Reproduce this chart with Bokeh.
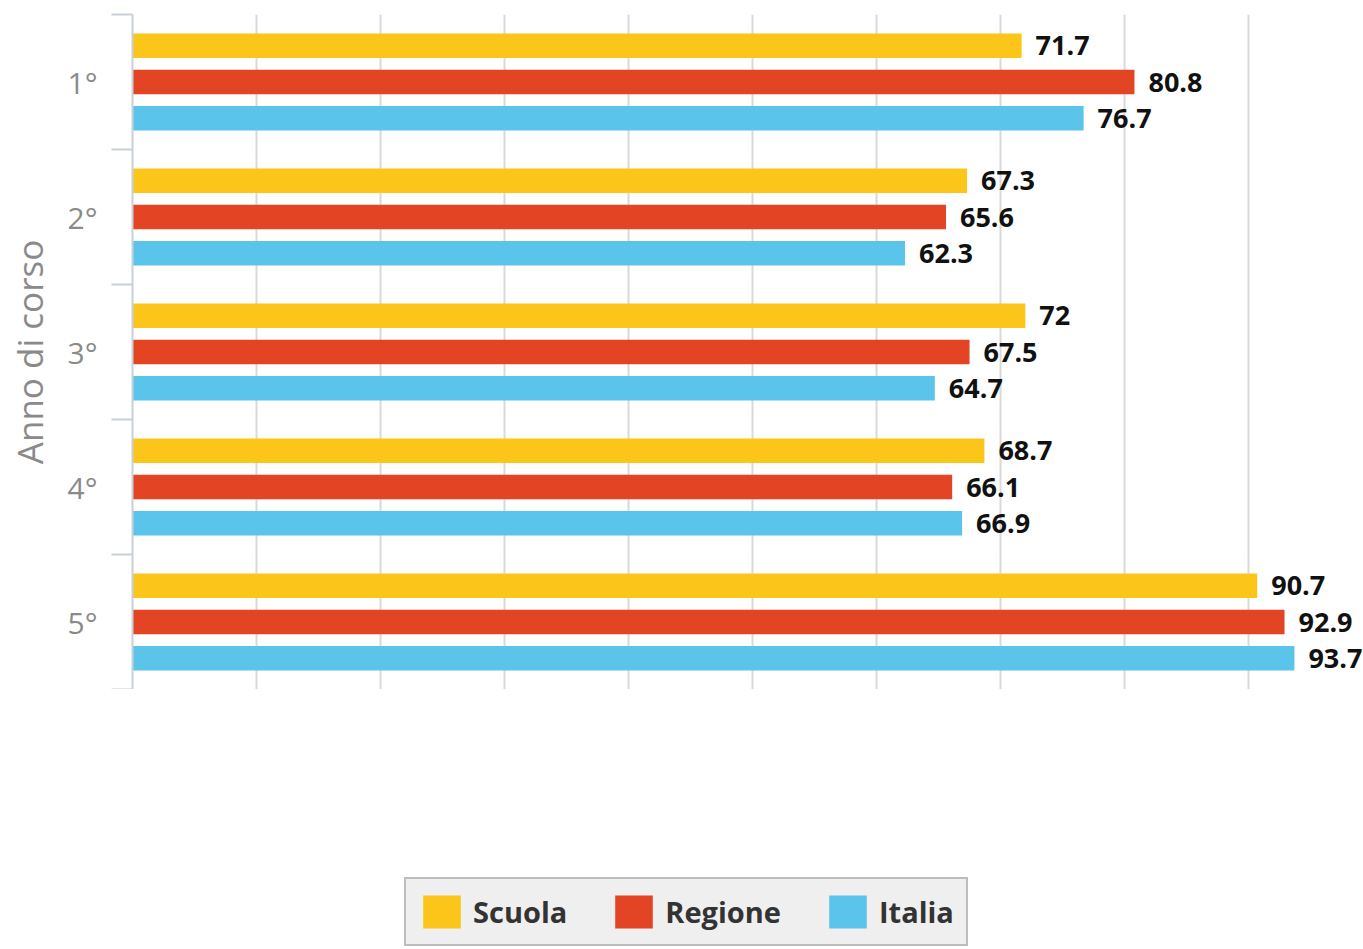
from bokeh.plotting import figure
from bokeh.models import (ColumnDataSource, Range1d, FixedTicker, LabelSet,
                          Legend, LegendItem)
from bokeh.core.properties import value
from bokeh.layouts import column
from bokeh.embed import file_html
from bokeh.resources import INLINE

# ---- data ----
categories = ["1°", "2°", "3°", "4°", "5°"]
series_names = ["Scuola", "Regione", "Italia"]
scuola = [71.7, 67.3, 72.0, 68.7, 90.7]
regione = [80.8, 65.6, 67.5, 66.1, 92.9]
italia = [76.7, 62.3, 64.7, 66.9, 93.7]
colors = ["#FCC51A", "#E24424", "#5BC4EA"]
grid_values = [10, 20, 30, 40, 50, 60, 70, 80, 90]
y_title = "Anno di corso"

series = [scuola, regione, italia]
n = len(categories)

p = figure(width=1363, height=689, output_backend="svg", toolbar_location=None,
           x_range=Range1d(0, 99.27), y_range=Range1d(n, 0),
           x_axis_location=None, min_border_left=132, min_border_top=14,
           min_border_bottom=0, min_border_right=0)
p.outline_line_color = None
p.background_fill_color = "white"
p.border_fill_color = "white"

p.xgrid.ticker = FixedTicker(ticks=grid_values)
p.xgrid.grid_line_color = "#d9d9d9"
p.xgrid.grid_line_width = 2
p.ygrid.grid_line_color = None

yax = p.yaxis[0]
yax.ticker = FixedTicker(ticks=[i + 0.5 for i in range(n)],
                         minor_ticks=list(range(n + 1)))
yax.major_label_overrides = {i + 0.5: c for i, c in enumerate(categories)}
yax.major_tick_out = 0
yax.major_tick_in = 0
yax.minor_tick_out = 21
yax.minor_tick_in = 0
yax.minor_tick_line_color = "#c8d0d8"
yax.minor_tick_line_width = 2
yax.axis_line_color = "#c8d0d8"
yax.axis_line_width = 2
yax.major_label_standoff = 14
yax.major_label_text_font = "Open Sans"
yax.major_label_text_font_size = "30px"
yax.major_label_text_color = "#8a8a8a"
yax.axis_label = y_title
yax.axis_label_text_font = "Open Sans"
yax.axis_label_text_font_size = "35px"
yax.axis_label_text_font_style = "normal"
yax.axis_label_text_color = "#8a8a8a"
yax.axis_label_standoff = 12

offsets = [-0.2686, 0.0, 0.2686]
bar_h = 0.182
sources = []
for vals, off, col in zip(series, offsets, colors):
    src = ColumnDataSource(dict(
        y=[i + 0.5 + off for i in range(n)],
        v=vals,
        t=["{:g}".format(v) for v in vals],
    ))
    sources.append(src)
    p.hbar(y="y", right="v", left=0, height=bar_h, source=src,
           fill_color=col, line_color=None)
    p.add_layout(LabelSet(x="v", y="y", text="t", source=src, x_offset=14,
                          text_baseline="middle", text_font=value("Open Sans"),
                          text_font_style="bold", text_font_size="27px",
                          text_color="#111111"))

# ---- legend figure ----
lg = figure(width=1363, height=260, output_backend="svg", toolbar_location=None,
            x_axis_location=None, y_axis_location=None,
            min_border_left=132, min_border_right=0, min_border_top=0,
            min_border_bottom=0)
lg.outline_line_color = None
lg.xgrid.grid_line_color = None
lg.ygrid.grid_line_color = None
items = []
for name, col, src in zip(series_names, colors, sources):
    r = lg.hbar(y="y", right="v", left=0, height=bar_h, source=src,
                fill_color=col, line_color=None, visible=False)
    items.append(LegendItem(label=name, renderers=[r]))
legend = Legend(items=items, orientation="horizontal", location=(272, 3),
                padding=12, spacing=43, glyph_width=47,
                glyph_height=41, label_standoff=8,
                label_text_font="Open Sans", label_text_font_style="bold",
                label_text_font_size="29px", label_text_color="#333333",
                background_fill_color="#efefef", background_fill_alpha=1,
                border_line_color="#8c8c8c", border_line_width=2,
                inactive_fill_alpha=0)
lg.add_layout(legend, "center")

layout = column(p, lg, spacing=0)
open("out.html", "w").write(file_html(layout, INLINE))
